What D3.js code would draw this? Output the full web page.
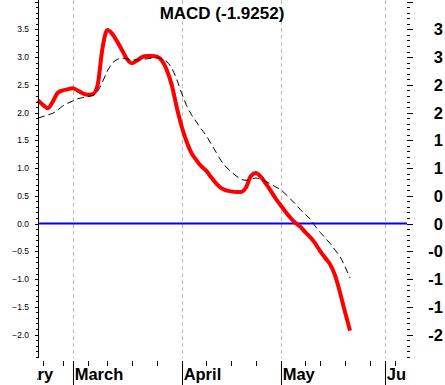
<!DOCTYPE html>
<html lang="en">
<head>
<meta charset="utf-8">
<title>MACD</title>
<style>
  body { margin: 0; background: #fff; }
  text { font-family: "Liberation Sans", Arial, sans-serif; }
</style>
</head>
<body>
<div id="chart"></div>
<script src="https://d3js.org/d3.v7.min.js"></script>
<script>
// macd line and signal line, one value per trading day
var macd = [2.22, 2.14, 2.08, 2.20, 2.36, 2.40, 2.42, 2.44, 2.40, 2.35,
            2.32, 2.33, 2.48, 3.15, 3.49, 3.42, 3.28, 3.12, 2.96, 2.89,
            2.94, 3.00, 3.02, 3.02, 3.01, 2.94, 2.77, 2.50, 2.10, 1.75,
            1.48, 1.27, 1.14, 1.03, 0.95, 0.83, 0.72, 0.64, 0.60, 0.58,
            0.57, 0.57, 0.65, 0.86, 0.91, 0.84, 0.72, 0.59, 0.45, 0.33,
            0.21, 0.10, 0.01, -0.06, -0.16, -0.25, -0.36, -0.50, -0.62, -0.74,
            -0.94, -1.25, -1.60, -1.93];
var signal = [1.90, 1.93, 1.96, 1.99, 2.05, 2.12, 2.17, 2.21, 2.25, 2.27,
              2.29, 2.31, 2.38, 2.55, 2.75, 2.89, 2.96, 2.98, 2.97, 2.95,
              2.95, 2.96, 2.97, 2.98, 2.99, 2.97, 2.92, 2.80, 2.60, 2.35,
              2.13, 1.96, 1.83, 1.70, 1.58, 1.43, 1.28, 1.13, 1.02, 0.93,
              0.86, 0.80, 0.78, 0.80, 0.82, 0.80, 0.76, 0.71, 0.66, 0.61,
              0.53, 0.44, 0.35, 0.25, 0.16, 0.08, -0.05, -0.16, -0.26, -0.36,
              -0.48, -0.60, -0.78, -0.98];
var lastValue = "-1.9252";

// months: label and trading-day index where it starts
var months = ["February", "March", "April", "May", "June"];
var monthStart = [-11.6, 7, 29, 49, 70];
var weekTicks = [1, 5, 10, 14, 19, 24, 34, 39, 44, 54, 57, 62, 67, 72];
var yLabels = [3.5, 3.0, 2.5, 2.0, 1.5, 1.0, 0.5, 0.0, -0.5, -1.0, -1.5, -2.0];

var width = 445, height = 385;
var left = 38, right = 407, plotBottom = 358;

var svg = d3.select("#chart").append("svg")
    .attr("width", width)
    .attr("height", height);

var x = d3.scaleLinear().domain([0, 74.5]).range([left, right]);
var y = d3.scaleLinear().domain([-2.45, 4.03]).range([359.5, 0]);

// month gridlines
svg.append("g").selectAll("line")
    .data(monthStart.slice(1))
    .enter().append("line")
    .attr("x1", function(d) { return Math.round(x(d)) + 0.5; })
    .attr("x2", function(d) { return Math.round(x(d)) + 0.5; })
    .attr("y1", 0).attr("y2", plotBottom)
    .attr("stroke", "#bdbdbd")
    .attr("stroke-dasharray", "4,3");

// zero line
svg.append("line")
    .attr("x1", left).attr("x2", right)
    .attr("y1", y(0)).attr("y2", y(0))
    .attr("stroke", "#0000ff")
    .attr("stroke-width", 2);

var line = d3.line()
    .x(function(d, i) { return x(i); })
    .y(function(d) { return y(d); })
    .curve(d3.curveMonotoneX);

svg.append("path")
    .datum(macd)
    .attr("d", line)
    .attr("fill", "none")
    .attr("stroke", "#ff0000")
    .attr("stroke-width", 4)
    .attr("stroke-linejoin", "round");

svg.append("path")
    .datum(signal)
    .attr("d", line)
    .attr("fill", "none")
    .attr("stroke", "#000")
    .attr("stroke-width", 1)
    .attr("stroke-dasharray", "7,4");

// y ticks, every 0.1, long every 0.5
var yTicks = d3.range(-24, 41).map(function(k) { return k / 10; });
function isMajor(v) { return Math.abs(v * 2 - Math.round(v * 2)) < 1e-6; }

svg.append("line")
    .attr("x1", left + 0.5).attr("x2", left + 0.5)
    .attr("y1", 0).attr("y2", plotBottom)
    .attr("stroke", "#000");

svg.append("g").selectAll("line")
    .data(yTicks)
    .enter().append("line")
    .attr("x1", function(d) { return isMajor(d) ? left - 3 : left - 2; })
    .attr("x2", left)
    .attr("y1", function(d) { return Math.round(y(d)) + 0.5; })
    .attr("y2", function(d) { return Math.round(y(d)) + 0.5; })
    .attr("stroke", "#000");

svg.append("g").selectAll("text")
    .data(yLabels)
    .enter().append("text")
    .attr("x", 29)
    .attr("y", function(d) { return y(d) + 3; })
    .attr("text-anchor", "end")
    .style("font-size", "8.5px")
    .text(d3.format(".1f"));

// right side ticks and labels
svg.append("g").selectAll("line")
    .data(yTicks)
    .enter().append("line")
    .attr("x1", right)
    .attr("x2", function(d) { return isMajor(d) ? right + 6 : right + 3; })
    .attr("y1", function(d) { return Math.round(y(d)) + 0.5; })
    .attr("y2", function(d) { return Math.round(y(d)) + 0.5; })
    .attr("stroke", "#000");

svg.append("g").selectAll("text")
    .data(yLabels)
    .enter().append("text")
    .attr("x", 443)
    .attr("y", function(d) { return y(d) + 6; })
    .attr("text-anchor", "end")
    .style("font-size", "16.5px")
    .style("font-weight", "bold")
    .text(function(d) { return (d < 0 ? "-" : "") + Math.floor(Math.abs(d)); });

// x axis
svg.append("g").selectAll("line")
    .data(weekTicks)
    .enter().append("line")
    .attr("x1", function(d) { return Math.round(x(d)) + 0.5; })
    .attr("x2", function(d) { return Math.round(x(d)) + 0.5; })
    .attr("y1", 361).attr("y2", 366)
    .attr("stroke", "#000");

svg.append("g").selectAll("line")
    .data(monthStart.slice(1))
    .enter().append("line")
    .attr("x1", function(d) { return Math.round(x(d)) + 0.5; })
    .attr("x2", function(d) { return Math.round(x(d)) + 0.5; })
    .attr("y1", 361).attr("y2", height)
    .attr("stroke", "#000");

svg.append("clipPath").attr("id", "xclip")
    .append("rect")
    .attr("x", 37).attr("y", 360)
    .attr("width", right - 37).attr("height", 25);

svg.append("g")
    .attr("clip-path", "url(#xclip)")
    .selectAll("text")
    .data(months)
    .enter().append("text")
    .attr("x", function(d, i) { return x(monthStart[i]) + 2; })
    .attr("y", 380)
    .style("font-size", "16.5px")
    .style("font-weight", "bold")
    .text(function(d) { return d; });

// title
svg.append("text")
    .attr("x", 222)
    .attr("y", 18.5)
    .attr("text-anchor", "middle")
    .style("font-size", "17px")
    .style("font-weight", "bold")
    .text("MACD (" + lastValue + ")");
</script>
</body>
</html>
